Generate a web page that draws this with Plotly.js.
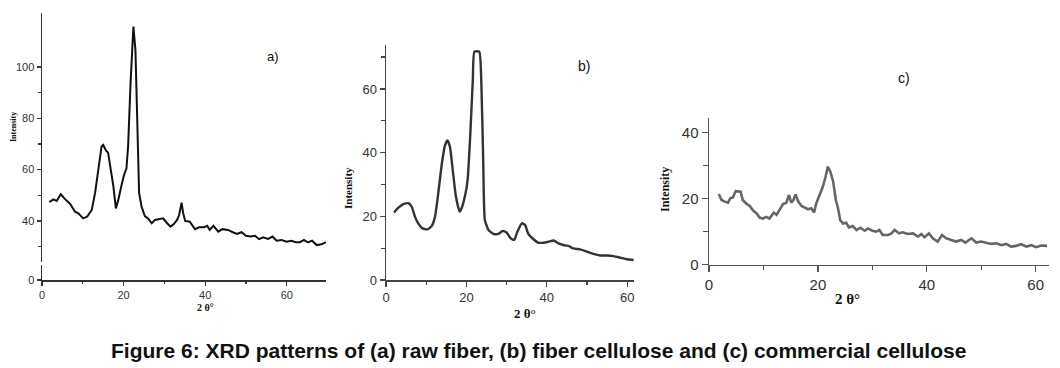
<!DOCTYPE html>
<html>
<head>
<meta charset="utf-8">
<script src="https://cdn.plot.ly/plotly-3.0.1.min.js"></script>
<style>html,body{margin:0;padding:0;background:#fff;}#chart{width:1060px;height:368px;}</style>
</head>
<body>
<div id="chart"></div>
<script>
// ---- data ----
const aTheta = [1.8,2.8,3.6,4.6,5.6,6.9,8.1,8.9,10.1,11.1,12.2,13.0,13.8,14.6,15.0,15.7,16.2,16.8,17.5,18.1,18.7,19.5,20.1,20.7,21.1,21.7,22.4,22.9,23.3,23.8,24.4,25.2,26.0,26.9,27.7,28.9,29.7,30.5,31.5,32.3,33.1,33.6,34.2,34.6,35.1,36.2,37.5,38.5,39.7,40.5,41.1,42.0,43.2,44.2,45.6,46.9,47.8,48.9,50.0,51.1,52.2,53.2,54.2,55.4,56.5,57.5,58.7,59.9,61.1,62.2,63.2,64.2,65.2,66.2,67.3,68.5,69.6];
const aIntensity = [47.3,48.4,47.8,50.4,48.6,46.6,43.6,43.0,41.0,41.7,44.3,50.8,59.9,69.0,69.6,67.4,66.6,61.2,53.4,44.9,48.2,54.0,57.9,60.5,69.0,93.6,115.7,106.6,76.8,50.8,45.6,41.9,41.0,39.1,40.4,40.6,41.0,39.4,37.8,38.8,40.4,42.3,47.1,43.0,40.0,39.7,36.8,37.5,37.5,38.1,36.5,38.1,35.8,36.8,36.5,35.5,34.9,35.6,34.2,33.9,34.2,32.9,33.6,33.0,33.9,32.3,32.6,31.9,32.3,31.7,31.7,32.6,31.6,32.3,30.6,30.9,31.7];

const bTheta = [2.0,3.1,4.3,5.6,6.4,7.2,8.0,9.1,10.3,11.4,12.2,13.0,13.9,14.7,15.3,15.9,16.6,17.4,18.3,18.8,19.7,20.3,20.9,21.6,22.0,23.2,23.7,24.2,24.6,25.5,26.7,28.0,29.0,30.0,31.0,31.9,32.7,33.8,34.6,35.4,36.7,37.9,39.2,40.4,41.7,42.9,44.1,45.4,46.6,48.3,50.0,51.6,53.3,54.9,56.6,58.3,59.9,61.6];
const bIntensity = [21.2,22.7,23.8,24.1,23.0,19.9,17.8,16.2,15.9,17.0,19.9,27.2,36.6,42.4,43.8,41.9,34.6,26.2,21.5,22.5,26.7,31.4,44.0,62.8,71.7,71.7,62.8,36.6,18.8,15.7,14.5,14.5,15.4,14.9,13.1,12.6,15.2,17.8,17.3,14.5,12.8,11.7,11.7,12.0,12.4,11.5,11.0,10.7,9.9,9.6,8.9,8.2,7.7,7.7,7.5,7.0,6.5,6.3];

const cTheta = [1.8,2.3,2.9,3.5,3.9,4.4,4.9,5.3,5.8,6.2,6.9,7.5,8.1,8.7,9.3,9.9,10.5,11.1,11.9,12.4,13.0,13.6,14.2,14.7,15.1,15.5,15.9,16.4,17.0,17.6,18.2,18.8,19.3,19.7,20.3,20.9,21.4,21.8,22.3,22.8,23.3,23.7,24.1,24.6,25.2,25.7,26.4,27.1,27.8,28.6,29.2,30.0,30.7,31.3,31.9,32.9,33.5,34.1,34.9,35.6,36.5,37.5,38.4,39.0,39.6,40.4,41.1,42.0,42.8,43.6,44.5,45.4,46.3,47.1,48.2,49.1,50.0,50.9,51.8,52.8,53.7,54.6,55.5,56.4,57.3,58.3,59.2,60.1,61.0,62.1];
const cIntensity = [21.4,19.6,19.1,18.8,20.1,20.4,22.3,22.3,22.1,19.6,18.4,17.8,16.4,15.6,14.3,14.0,14.5,14.0,15.8,15.1,16.6,18.4,18.8,21.1,18.8,19.6,21.3,19.1,17.8,17.4,16.8,17.1,15.8,18.6,21.1,23.6,26.5,29.7,28.2,25.2,19.6,17.1,13.5,12.5,12.7,11.3,11.7,10.5,11.2,10.3,11.0,10.3,10.0,10.5,9.0,9.0,9.5,10.5,9.5,9.8,9.3,9.5,8.5,9.3,8.3,9.5,8.0,7.0,9.0,8.0,7.5,7.0,7.5,6.7,8.0,6.7,7.0,6.7,6.3,6.5,5.9,6.3,5.5,5.7,6.2,5.5,5.9,5.3,5.8,5.7];

const xTicks = [0, 20, 40, 60];
const xMinor = [10, 30, 50, 70];
const aYTicks = [40, 60, 80, 100];
const aYMinor = [30, 50, 70, 90];
const aYLowTicks = [0];
const bYTicks = [0, 20, 40, 60];
const bYMinor = [10, 30, 50, 70];
const cYTicks = [0, 20, 40];
const cYMinor = [10, 30];

const panelLabels = ["a)", "b)", "c)"];
const yTitle = "Intensity";
const xTitle = "2 θ°";
const caption = "Figure 6: XRD patterns of (a) raw fiber, (b) fiber cellulose and (c) commercial cellulose";

// ---- layout helpers (pixel geometry) ----
const W = 1060, H = 368;
const dx = (a, b) => [a / W, b / W];
const dy = (top, bottom) => [1 - bottom / H, 1 - top / H];
const px = v => v / W;
const py = v => 1 - v / H;

const fontTick = "Liberation Sans, Arial, sans-serif";
const fontSerif = "Liberation Serif, Times New Roman, serif";

function xAxis(domain, range, anchor, color, size, len) {
  return {domain, range, anchor, showline: true, linecolor: color, linewidth: 1.5,
    ticks: "outside", ticklen: len, tickwidth: 1.3, tickcolor: color,
    tickmode: "array", tickvals: xTicks, showgrid: false, zeroline: false,
    tickfont: {family: fontTick, size, color: "#333"},
    minor: {tickmode: "array", tickvals: xMinor, ticks: "outside", ticklen: Math.max(2, len - 2), tickcolor: color, showgrid: false},
    fixedrange: true};
}
function yAxis(domain, range, anchor, color, size, len, ticks, minor) {
  const ax = {domain, range, anchor, showline: true, linecolor: color, linewidth: 1.5,
    ticks: "outside", ticklen: len, tickwidth: 1.3, tickcolor: color,
    tickmode: "array", tickvals: ticks, showgrid: false, zeroline: false,
    tickfont: {family: fontTick, size, color: "#333"},
    fixedrange: true};
  if (minor) ax.minor = {tickmode: "array", tickvals: minor, ticks: "outside", ticklen: Math.max(2, len - 1), tickcolor: color, showgrid: false};
  return ax;
}

const traces = [
  {x: aTheta, y: aIntensity, xaxis: "x", yaxis: "y", mode: "lines",
   line: {color: "#111", width: 2}, hoverinfo: "skip"},
  // lower segment of the broken axis of panel a (same data, falls outside its range)
  {x: aTheta, y: aIntensity, xaxis: "x", yaxis: "y2", mode: "lines",
   line: {color: "#111", width: 2}, hoverinfo: "skip"},
  {x: bTheta, y: bIntensity, xaxis: "x2", yaxis: "y3", mode: "lines",
   line: {color: "#333", width: 2.4, shape: "spline", smoothing: 0.5}, hoverinfo: "skip"},
  {x: cTheta, y: cIntensity, xaxis: "x3", yaxis: "y4", mode: "lines",
   line: {color: "#666", width: 2.6}, hoverinfo: "skip"}
];

function ann(text, x, y, size, family, opts) {
  return Object.assign({text, x: px(x), y: py(y), xref: "paper", yref: "paper",
    showarrow: false, xanchor: "center", yanchor: "middle",
    font: {family, size, color: "#111"}}, opts || {});
}

const layout = {
  width: W, height: H,
  margin: {l: 0, r: 0, t: 0, b: 0},
  paper_bgcolor: "#fff", plot_bgcolor: "rgba(0,0,0,0)",
  showlegend: false,
  xaxis: xAxis(dx(42, 326), [0, 69.6], "y2", "#333", 11, 4),
  yaxis: yAxis(dy(13, 262), [24, 121], "x", "#333", 11, 4, aYTicks, aYMinor),
  yaxis2: yAxis(dy(265, 280), [-0.05, 5.8], "x", "#333", 11, 4, aYLowTicks, null),
  xaxis2: xAxis(dx(386, 634), [0, 61.7], "y3", "#444", 13, 5),
  yaxis3: yAxis(dy(45, 280), [0, 73.8], "x2", "#444", 13, 5, bYTicks, bYMinor),
  xaxis3: xAxis(dx(709, 1049), [0, 62.45], "y4", "#555", 15, 6),
  yaxis4: yAxis(dy(118.3, 264.7), [0, 44.36], "x3", "#555", 15, 6, cYTicks, cYMinor),
  annotations: [
    ann(panelLabels[0], 273, 57, 13, fontTick),
    ann(panelLabels[1], 584, 66, 14, fontTick),
    ann(panelLabels[2], 904, 78, 14, fontTick),
    ann("<b>" + yTitle + "</b>", 14, 127, 8, fontSerif, {textangle: -90}),
    ann("<b>" + yTitle + "</b>", 348, 188, 11, fontSerif, {textangle: -90}),
    ann("<b>" + yTitle + "</b>", 665, 190, 12, fontSerif, {textangle: -90}),
    ann("<b>" + xTitle + "</b>", 205, 307, 10, fontSerif),
    ann("<b>" + xTitle + "</b>", 525, 313, 13, fontSerif),
    ann("<b>" + xTitle + "</b>", 847, 299, 15, fontSerif),
    ann("<b>" + caption + "</b>", 538, 350, 21, fontTick)
  ]
};

Plotly.newPlot("chart", traces, layout, {displayModeBar: false, staticPlot: true});
</script>
</body>
</html>
